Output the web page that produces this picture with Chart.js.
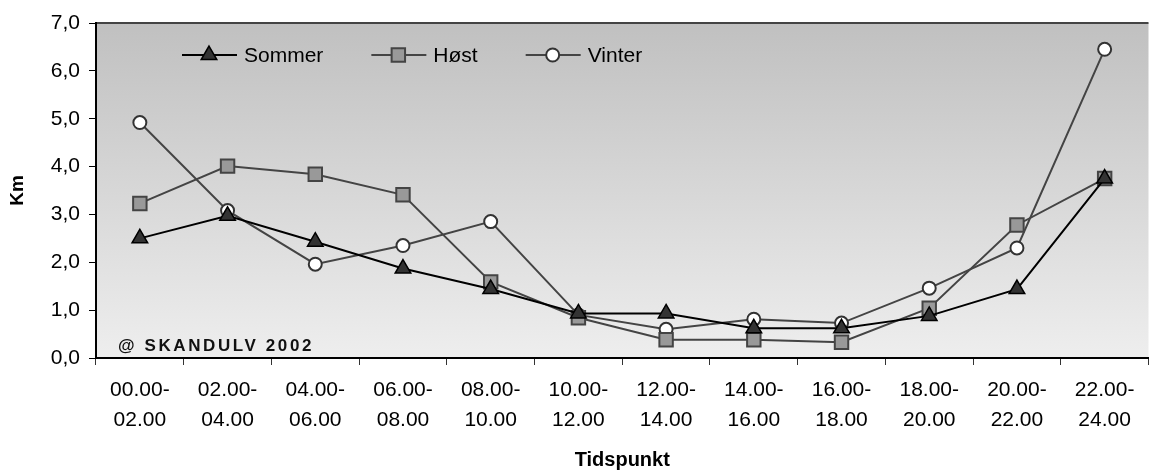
<!DOCTYPE html>
<html>
<head>
<meta charset="utf-8">
<script src="https://cdn.jsdelivr.net/npm/chart.js@4/dist/chart.umd.min.js"></script>
<style>
  html, body { margin: 0; padding: 0; background: #fff; overflow: hidden; }
  #wrap { width: 1160px; height: 474px; position: relative; }
</style>
</head>
<body>
<div id="wrap"><canvas id="chart"></canvas></div>
<script>
const categories = [
  ['00.00-', '02.00'], ['02.00-', '04.00'], ['04.00-', '06.00'], ['06.00-', '08.00'],
  ['08.00-', '10.00'], ['10.00-', '12.00'], ['12.00-', '14.00'], ['14.00-', '16.00'],
  ['16.00-', '18.00'], ['18.00-', '20.00'], ['20.00-', '22.00'], ['22.00-', '24.00']
];
const sommer = [2.50, 2.97, 2.43, 1.87, 1.44, 0.93, 0.93, 0.62, 0.62, 0.88, 1.44, 3.75];
const host   = [3.23, 4.01, 3.84, 3.41, 1.59, 0.84, 0.38, 0.38, 0.33, 1.04, 2.78, 3.75];
const vinter = [4.92, 3.08, 1.96, 2.35, 2.85, 0.90, 0.60, 0.81, 0.73, 1.46, 2.30, 6.45];
const yMin = 0, yMax = 7, yStep = 1;

const FONT = "'Liberation Sans', Arial, sans-serif";
Chart.defaults.font.family = FONT;
Chart.defaults.color = '#000';

// plot background gradient + top edge
const plotBg = {
  id: 'plotBg',
  beforeDraw(chart) {
    const { ctx, chartArea: a } = chart;
    const g = ctx.createLinearGradient(0, a.top, 0, a.bottom);
    g.addColorStop(0, '#c0c0c0');
    g.addColorStop(1, '#eeeeee');
    ctx.save();
    ctx.fillStyle = g;
    ctx.fillRect(a.left, a.top, a.right - a.left, a.bottom - a.top);
    ctx.strokeStyle = '#444';
    ctx.lineWidth = 2;
    ctx.beginPath();
    ctx.moveTo(a.left, a.top);
    ctx.lineTo(a.right, a.top);
    ctx.stroke();
    ctx.restore();
  }
};

// legend inside the plot, line + marker like the original
const innerLegend = {
  id: 'innerLegend',
  afterDraw(chart) {
    const { ctx, chartArea: a } = chart;
    const y = a.top + 32;
    let x = a.left + 86;
    ctx.save();
    ctx.font = '21px ' + FONT;
    ctx.textBaseline = 'middle';
    chart.data.datasets.forEach(ds => {
      ctx.strokeStyle = ds.borderColor;
      ctx.lineWidth = 2;
      ctx.beginPath();
      ctx.moveTo(x, y);
      ctx.lineTo(x + 55, y);
      ctx.stroke();
      ctx.fillStyle = ds.pointBackgroundColor;
      ctx.strokeStyle = ds.pointBorderColor;
      ctx.lineWidth = ds.pointBorderWidth;
      Chart.helpers.drawPoint(ctx, {
        pointStyle: ds.pointStyle, radius: ds.pointRadius, rotation: 0, borderWidth: ds.pointBorderWidth
      }, x + 27, y);
      ctx.fillStyle = '#000';
      ctx.fillText(ds.label, x + 62, y + 1);
      x += 62 + ctx.measureText(ds.label).width + 48;
    });
    // watermark
    ctx.font = 'bold 17px ' + FONT;
    ctx.letterSpacing = '2.6px';
    ctx.textBaseline = 'alphabetic';
    ctx.fillStyle = '#111';
    ctx.fillText('@ SKANDULV 2002', a.left + 22, a.bottom - 7);
    ctx.restore();
  }
};

new Chart(document.getElementById('chart'), {
  type: 'line',
  data: {
    labels: categories,
    datasets: [
      {
        label: 'Sommer', data: sommer,
        borderColor: '#000', borderWidth: 2,
        pointStyle: 'triangle', pointRadius: 9, pointBorderWidth: 1.5,
        pointBackgroundColor: '#333', pointBorderColor: '#000'
      },
      {
        label: 'Høst', data: host,
        borderColor: '#444', borderWidth: 2,
        pointStyle: 'rect', pointRadius: 9.5, pointBorderWidth: 2,
        pointBackgroundColor: '#999', pointBorderColor: '#444'
      },
      {
        label: 'Vinter', data: vinter,
        borderColor: '#444', borderWidth: 2,
        pointStyle: 'circle', pointRadius: 6.5, pointBorderWidth: 2,
        pointBackgroundColor: '#fff', pointBorderColor: '#333'
      }
    ]
  },
  options: {
    responsive: true,
    maintainAspectRatio: false,
    animation: false,
    layout: { padding: { top: 23, right: 2, left: 0, bottom: 0 } },
    plugins: {
      legend: { display: false },
      tooltip: { enabled: false }
    },
    elements: { line: { tension: 0 } },
    scales: {
      x: {
        offset: true,
        grid: { offset: true, drawOnChartArea: false, tickLength: 7, color: '#333', lineWidth: 1 },
        border: { color: '#000', width: 2 },
        ticks: { font: { size: 21, lineHeight: 1.43 }, padding: 10, maxRotation: 0, autoSkip: false, color: '#000' },
        title: { display: true, text: 'Tidspunkt', font: { size: 20, weight: 'bold' }, padding: { top: 0, bottom: 2 } },
        afterFit(scale) { scale.height = 116; }
      },
      y: {
        min: yMin, max: yMax,
        grid: { drawOnChartArea: false, tickLength: 7, color: '#000' },
        border: { color: '#000', width: 2 },
        ticks: {
          stepSize: yStep, padding: 9, font: { size: 21 }, color: '#000',
          callback: v => v.toFixed(1).replace('.', ',')
        },
        title: { display: true, text: 'Km', font: { size: 19, weight: 'bold' }, padding: { top: 6, bottom: 0 } },
        afterFit(scale) { scale.width = 96; }
      }
    }
  },
  plugins: [plotBg, innerLegend]
});
</script>
</body>
</html>
